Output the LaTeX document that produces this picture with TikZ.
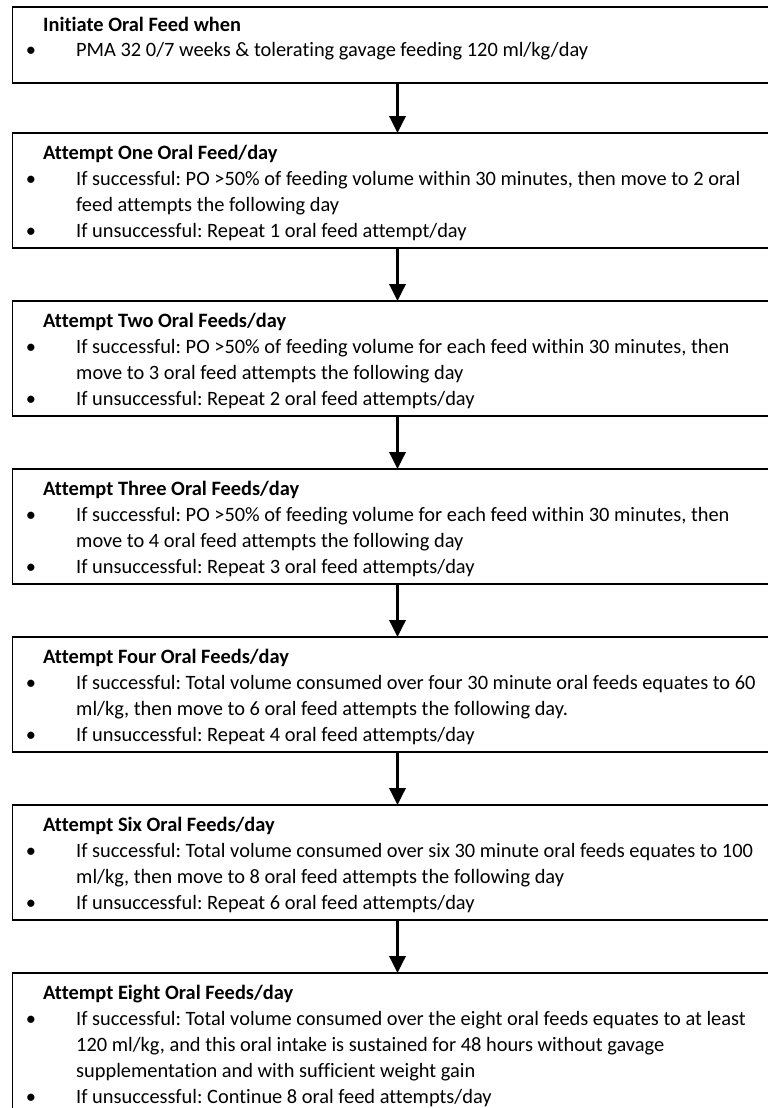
\documentclass[tikz,border=0pt]{standalone}
\usepackage{fontspec}
\setmainfont[RawFeature={-liga;-dlig;-clig}]{Carlito}
\usetikzlibrary{arrows.meta}
\frenchspacing
\newcommand\fsz{\fontsize{20.4}{22}\selectfont}
\newcommand\mytl[3]{\node[txt] (#1) at (76,#2) {#3};}
\newcommand\myttl[3]{\node[ttl] (#1) at (43,#2) {#3};}
\newcommand\mybul[2]{\node[bul] (#1) at (31,#2) {\textbullet};}
\begin{document}
\frenchspacing
\begin{tikzpicture}[x=1pt,y=-1pt,
  fbox/.style={draw=black, line width=1.5pt, rectangle, inner sep=0pt, outer sep=0pt, anchor=north west, minimum width=770pt},
  ttl/.style={anchor=base west, inner sep=0pt, font=\fsz\bfseries},
  txt/.style={anchor=base west, inner sep=0pt, font=\fsz},
  bul/.style={anchor=base, inner sep=0pt, font=\fsz},
  arr/.style={-{Triangle[width=16pt,length=17pt]}, line width=3.5pt}]
\useasboundingbox (0,0) rectangle (768,1108);
\clip (0,0) rectangle (768,1108);
% boxes
\node[fbox, minimum height=76pt] (b1) at (12.5,7) {};
\node[fbox, minimum height=115pt] (b2) at (12.5,133) {};
\node[fbox, minimum height=115pt] (b3) at (12.5,301) {};
\node[fbox, minimum height=115pt] (b4) at (12.5,469) {};
\node[fbox, minimum height=115pt] (b5) at (12.5,637) {};
\node[fbox, minimum height=115pt] (b6) at (12.5,805) {};
\node[fbox, minimum height=145pt] (b7) at (12.5,973) {};
% arrows
\draw[arr] (b1.south) -- (b2.north);
\draw[arr] (b2.south) -- (b3.north);
\draw[arr] (b3.south) -- (b4.north);
\draw[arr] (b4.south) -- (b5.north);
\draw[arr] (b5.south) -- (b6.north);
\draw[arr] (b6.south) -- (b7.north);
% box 1
\myttl{t1}{32}{Initiate Oral Feed when}
\mybul{u1a}{57}\mytl{l1a}{57}{PMA 32 0/7 weeks \& tolerating gavage feeding 120 ml/kg/day}
% box 2
\myttl{t2}{159}{Attempt One Oral Feed/day}
\mybul{u2a}{185}\mytl{l2a}{185}{If successful: PO >50\% of feeding volume within 30 minutes, then move to 2 oral}
\mytl{l2b}{211}{feed attempts the following day}
\mybul{u2b}{237}\mytl{l2c}{237}{If unsuccessful: Repeat 1 oral feed attempt/day}
% box 3
\myttl{t3}{327}{Attempt Two Oral Feeds/day}
\mybul{u3a}{353}\mytl{l3a}{353}{If successful: PO >50\% of feeding volume for each feed within 30 minutes, then}
\mytl{l3b}{379}{move to 3 oral feed attempts the following day}
\mybul{u3b}{405}\mytl{l3c}{405}{If unsuccessful: Repeat 2 oral feed attempts/day}
% box 4
\myttl{t4}{495}{Attempt Three Oral Feeds/day}
\mybul{u4a}{521}\mytl{l4a}{521}{If successful: PO >50\% of feeding volume for each feed within 30 minutes, then}
\mytl{l4b}{547}{move to 4 oral feed attempts the following day}
\mybul{u4b}{573}\mytl{l4c}{573}{If unsuccessful: Repeat 3 oral feed attempts/day}
% box 5
\myttl{t5}{663}{Attempt Four Oral Feeds/day}
\mybul{u5a}{689}\mytl{l5a}{689}{If successful: Total volume consumed over four 30 minute oral feeds equates to 60}
\mytl{l5b}{715}{ml/kg, then move to 6 oral feed attempts the following day.}
\mybul{u5b}{741}\mytl{l5c}{741}{If unsuccessful: Repeat 4 oral feed attempts/day}
% box 6
\myttl{t6}{831}{Attempt Six Oral Feeds/day}
\mybul{u6a}{857}\mytl{l6a}{857}{If successful: Total volume consumed over six 30 minute oral feeds equates to 100}
\mytl{l6b}{883}{ml/kg, then move to 8 oral feed attempts the following day}
\mybul{u6b}{909}\mytl{l6c}{909}{If unsuccessful: Repeat 6 oral feed attempts/day}
% box 7
\myttl{t7}{999}{Attempt Eight Oral Feeds/day}
\mybul{u7a}{1025}\mytl{l7a}{1025}{If successful: Total volume consumed over the eight oral feeds equates to at least}
\mytl{l7b}{1051}{120 ml/kg, and this oral intake is sustained for 48 hours without gavage}
\mytl{l7c}{1077}{supplementation and with sufficient weight gain}
\mybul{u7b}{1103}\mytl{l7d}{1103}{If unsuccessful: Continue 8 oral feed attempts/day}
\end{tikzpicture}
\end{document}
